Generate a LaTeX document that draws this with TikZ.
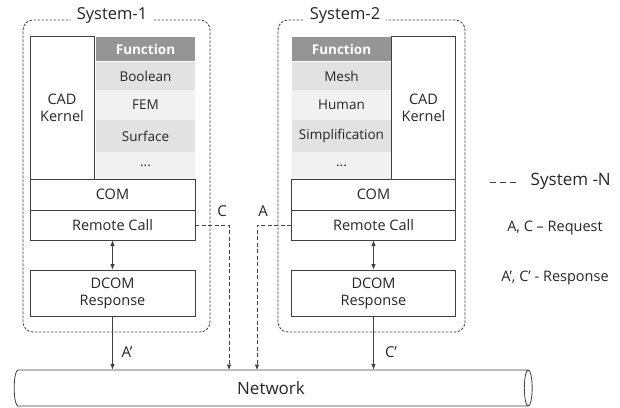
\documentclass[tikz,border=0pt]{standalone}
\usepackage{fontspec}
\setmainfont{Open Sans}
\usepackage{xcolor}
\usepackage{tikz}
\usetikzlibrary{shapes.geometric, arrows.meta}

\definecolor{linegray}{HTML}{404040}
\definecolor{headgray}{HTML}{959595}
\definecolor{rowdark}{HTML}{E2E2E2}
\definecolor{rowlight}{HTML}{F1F1F1}

\begin{document}
\begin{tikzpicture}[x=1pt, y=-1pt, text=black!85, line width=0.8pt,
    box/.style = {draw=linegray, fill=white, inner sep=0pt, align=center, font=\fontsize{14.5}{17}\selectfont},
    sysbox/.style = {draw=linegray, dash pattern=on 2.5pt off 1.5pt, rounded corners=10pt, inner sep=0pt},
    func/.style = {inner sep=0pt, minimum width=99pt, font=\fontsize{13.5}{15}\selectfont},
    head/.style = {func, fill=headgray, text=white, minimum height=24pt, font=\fontsize{13.5}{15}\selectfont\bfseries},
    title/.style = {fill=white, inner xsep=6pt, font=\fontsize{16.5}{19}\selectfont},
    lbl/.style = {font=\fontsize{15}{17}\selectfont},
    arr/.style = {draw=linegray, -{Latex[length=5.5pt, width=4.5pt]}},
    req/.style = {arr, dash pattern=on 4pt off 2.5pt}]
    \useasboundingbox (0,0) rectangle (620,407);

    % 系统1
    \node[sysbox, minimum width=187pt, minimum height=312pt] (sys1) at (116.5,176) {};
    \node[title] (t1) at (112,16) {System-1};
    \node[box, minimum width=64pt, minimum height=144pt] (cad1) at (62,108) {CAD\\Kernel};
    \node[head] (fh1) at (145.5,49) {Function};
    \node[func, fill=rowdark, minimum height=28pt] (f11) at (145.5,76) {Boolean};
    \node[func, fill=rowlight, minimum height=30pt] (f12) at (145.5,105) {FEM};
    \node[func, fill=rowdark, minimum height=32pt] (f13) at (145.5,136) {Surface};
    \node[func, fill=rowlight, minimum height=27pt] (f14) at (145.5,165.5) {...};
    \node[box, minimum width=165pt, minimum height=31pt] (com1) at (112.5,194.5) {COM};
    \node[box, minimum width=165pt, minimum height=30pt] (rc1) at (112.5,225) {Remote Call};
    \node[box, minimum width=165pt, minimum height=46pt] (dcom1) at (112.5,293) {DCOM\\Response};

    % 系统2
    \node[sysbox, minimum width=187pt, minimum height=312pt] (sys2) at (371.5,176) {};
    \node[title] (t2) at (345,16) {System-2};
    \node[box, minimum width=64pt, minimum height=144pt] (cad2) at (423.5,108) {CAD\\Kernel};
    \node[head] (fh2) at (341.5,49) {Function};
    \node[func, fill=rowdark, minimum height=28pt] (f21) at (341.5,76) {Mesh};
    \node[func, fill=rowlight, minimum height=30pt] (f22) at (341.5,105) {Human};
    \node[func, fill=rowdark, minimum height=32pt] (f23) at (341.5,136) {Simplification};
    \node[func, fill=rowlight, minimum height=27pt] (f24) at (341.5,165.5) {...};
    \node[box, minimum width=164pt, minimum height=31pt] (com2) at (373.5,194.5) {COM};
    \node[box, minimum width=164pt, minimum height=30pt] (rc2) at (373.5,225) {Remote Call};
    \node[box, minimum width=164pt, minimum height=46pt] (dcom2) at (373.5,293) {DCOM\\Response};

    % 网络
    \node[cylinder, draw=linegray, shape aspect=0.6, minimum width=36pt, minimum height=518pt,
        inner sep=0pt, font=\fontsize{17}{19}\selectfont] (net) at (271,388) {Network};
    \coordinate (cdown) at (229,370);
    \coordinate (adown) at (257,370);

    % 连线
    \draw[draw=linegray, {Latex[length=5.5pt, width=4.5pt]}-{Latex[length=5.5pt, width=4.5pt]}] (rc1) -- (dcom1);
    \draw[draw=linegray, {Latex[length=5.5pt, width=4.5pt]}-{Latex[length=5.5pt, width=4.5pt]}] (rc2) -- (dcom2);
    \draw[arr] (dcom1) -- (dcom1 |- net.north);
    \draw[arr] (dcom2) -- (dcom2 |- net.north);
    \draw[req] (rc1.east) -| (cdown);
    \draw[req] (rc2.west) -| (adown);

    % 标签
    \node[lbl] (lc) at (222,211) {C};
    \node[lbl] (la) at (263,211) {A};
    \node[lbl] (la2) at (127,352) {A’};
    \node[lbl] (lc2) at (391,352) {C’};

    % 图例
    \coordinate (leg1) at (490,182);
    \coordinate (leg2) at (516,182);
    \draw[draw=linegray, dash pattern=on 6pt off 4pt] (leg1) -- (leg2);
    \node[anchor=west, font=\fontsize{17}{19}\selectfont] (legsys) at (527,181) {System -N};
    \node[font=\fontsize{14.5}{17}\selectfont] (legreq) at (555,228) {A, C – Request};
    \node[font=\fontsize{14.5}{17}\selectfont] (legres) at (555,278) {A’, C’ - Response};
\end{tikzpicture}
\end{document}
